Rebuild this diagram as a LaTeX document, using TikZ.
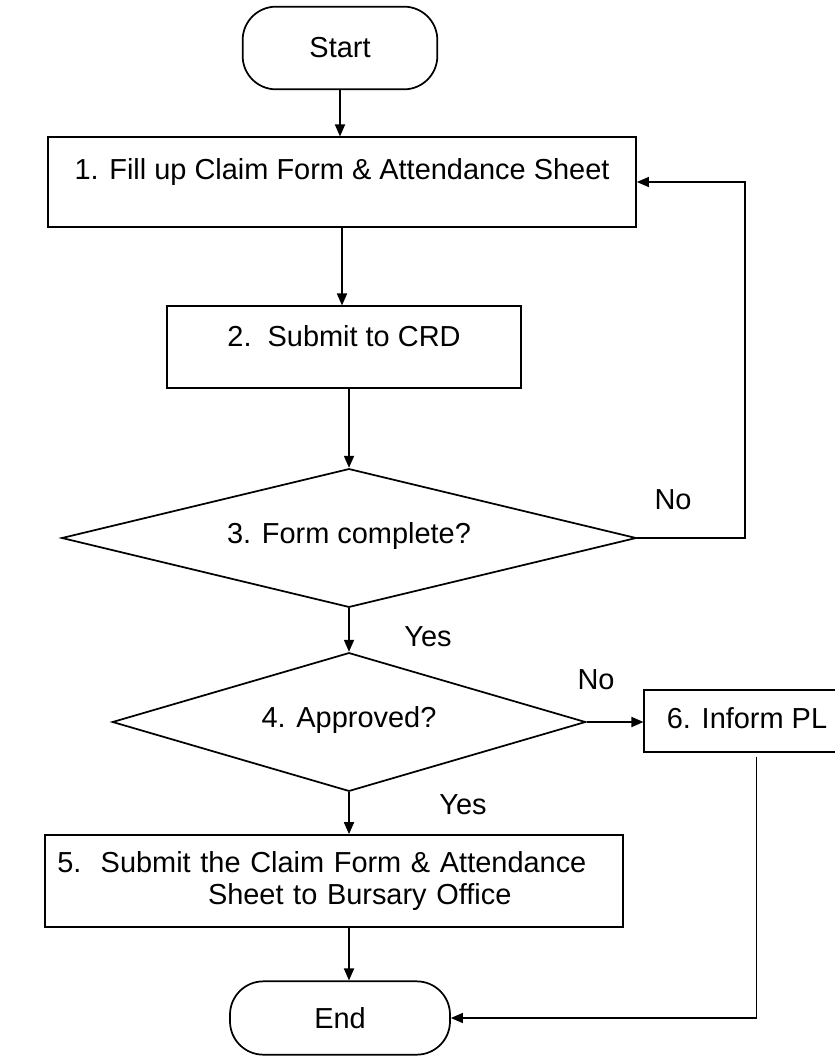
\documentclass[tikz,border=0pt]{standalone}
\usepackage{fontspec}
\setmainfont{Liberation Sans}
\usetikzlibrary{shapes.geometric,arrows.meta}

\begin{document}
\begin{tikzpicture}[x=0.75pt,y=-0.75pt,
    font=\fontsize{21.7}{24}\selectfont,
    >={Triangle[length=9pt,width=7.5pt]},
    proc/.style={draw,line width=1.3pt,rectangle,inner sep=0pt},
    term/.style={draw,line width=1.3pt,rectangle,rounded corners=25pt,inner sep=0pt},
    dec/.style={draw,line width=1.3pt,diamond,inner sep=0pt},
    lift/.style={text height=15pt,text depth=#1},
    flow/.style={->,line width=1.3pt},
    retline/.style={->,line width=1pt}]
\useasboundingbox (0,0) rectangle (835,1057);
%\draw [help lines,step=50] (0,0) grid (835,1057);
\node [term,minimum width=146pt,minimum height=62pt] (start) at (340,48) {Start};
\node [proc,lift=18.8pt,minimum width=441pt,minimum height=67pt] (fill) at (342,182) {1. Fill up Claim Form \& Attendance Sheet};
\node [proc,lift=15.8pt,minimum width=266pt,minimum height=61pt] (crd) at (344,347) {2.\ \ Submit to CRD};
\node [dec,lift=7.5pt,shape aspect=4.14,minimum width=431pt,minimum height=104pt] (form) at (349,538) {3. Form complete?};
\node [dec,lift=7.5pt,shape aspect=3.41,minimum width=355pt,minimum height=104pt] (approved) at (349,722) {4. Approved?};
\node [proc,lift=4pt,minimum width=154pt,minimum height=46pt] (inform) at (747,721) {6. Inform PL};
\node [proc,minimum width=433pt,minimum height=69pt,text width=415pt,align=left] (bursary) at (334,881)
  {5.\ \ Submit the Claim Form \& Attendance\\ \hspace*{113pt}Sheet to Bursary Office};
\node [term,minimum width=165pt,minimum height=55pt] (finish) at (340,1018) {End};
% labels
\node (no3) at (673,500) {No};
\node (yes3) at (428,637) {Yes};
\node (no4) at (596,680) {No};
\node (yes4) at (463,805) {Yes};
% arrows down
\draw [flow] (start.south) -- (start.south |- fill.north);
\draw [flow] (fill.south) -- (fill.south |- crd.north);
\draw [flow] (form.north |- crd.south) -- (form.north);
\draw [flow] (form.south) -- (approved.north);
\draw [flow] (approved.south) -- (approved.south |- bursary.north);
\draw [flow] (approved.south |- bursary.south) -- (approved.south |- finish.north);
\draw [flow] (approved.east) -- (approved.east -| inform.west);
% way back
\coordinate (fbk) at (745,538);
\draw [retline] (form.east) -- (fbk) |- (fill.east);
\draw [retline,shorten <=3pt] ([xshift=7pt]inform.south) |- (finish.east);
\end{tikzpicture}
\end{document}
